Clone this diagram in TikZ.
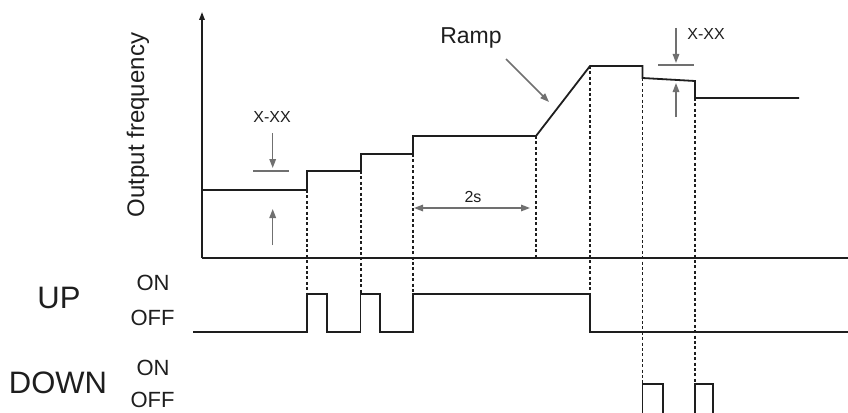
\documentclass[tikz,border=0pt]{standalone}
\usepackage{fontspec}
\setmainfont{Liberation Sans}
\usetikzlibrary{arrows.meta}
\definecolor{sig}{HTML}{1E1E1E}
\definecolor{dim}{HTML}{707070}
\tikzset{
  sigline/.style={draw=sig, line width=1.8pt, line join=miter},
  axisline/.style={draw=sig, line width=1.6pt},
  guide/.style={draw=sig, line width=1.7pt, dash pattern=on 3pt off 2.4pt},
  dimarrow/.style={draw=dim, line width=1.5pt, -{Triangle[length=9pt,width=6.5pt]}},
  dimboth/.style={draw=dim, line width=1.5pt, {Triangle[length=9pt,width=6.5pt]}-{Triangle[length=9pt,width=6.5pt]}},
  dimtick/.style={draw=dim, line width=1.5pt},
  lbl/.style={inner sep=0pt, text=sig},
}
\begin{document}
\begin{tikzpicture}[x=1pt,y=-1pt]
\clip (0,0) rectangle (848,412);
\fill[white] (0,0) rectangle (848,412);

% axes
\coordinate (origin) at (202,258);
\coordinate (ytop) at (202,12);
\coordinate (xend) at (858,258);
\draw[axisline, -{Triangle[length=8pt,width=5.5pt]}] (origin) -- (ytop);
\draw[axisline, -{Triangle[length=10pt,width=7pt]}] (origin) -- (xend);

% output frequency curve
\draw[sigline] (202,190) -- (307,190) -- (307,171) -- (361,171) -- (361,154)
  -- (413,154) -- (413,136) -- (536,136) -- (590,66) -- (642.5,66) -- (642.5,78)
  -- (695,81) -- (695,98) -- (799,98);

% UP signal
\draw[sigline] (193,332) -- (307,332) -- (307,294) -- (327,294) -- (327,332)
  -- (360.5,332) -- (360.5,294) -- (380,294) -- (380,332) -- (413,332) -- (413,294)
  -- (590,294) -- (590,332) -- (850,332);

% DOWN signal
\draw[sigline] (642.5,425) -- (642.5,384) -- (663,384) -- (663,425);
\draw[sigline] (695,425) -- (695,384) -- (713,384) -- (713,425);

% guide lines
\draw[guide] (307,190) -- (307,294);
\draw[guide] (361,171) -- (361,294);
\draw[guide] (413,154) -- (413,294);
\draw[guide] (536,136) -- (536,258);
\draw[guide] (590,66) -- (590,294);
\draw[guide] (642.5,78) -- (642.5,384);
\draw[guide] (695,98) -- (695,384);

% left X-XX dimension
\coordinate (la1) at (272.7,133);
\coordinate (la2) at (272.7,168);
\coordinate (lt1) at (253,171);
\coordinate (lt2) at (289,171);
\coordinate (lb1) at (272.7,245);
\coordinate (lb2) at (272.7,209);
\draw[dimarrow] (la1) -- (la2);
\draw[dimtick] (lt1) -- (lt2);
\draw[dimarrow] (lb1) -- (lb2);
\node[lbl, font=\fontsize{16}{16}\selectfont] (xxl) at (272,117) {X-XX};

% right X-XX dimension
\coordinate (ra1) at (676,28);
\coordinate (ra2) at (676,63);
\coordinate (rt1) at (658,65);
\coordinate (rt2) at (694,65);
\coordinate (rb1) at (676,117);
\coordinate (rb2) at (676,83);
\draw[dimarrow] (ra1) -- (ra2);
\draw[dimtick] (rt1) -- (rt2);
\draw[dimarrow] (rb1) -- (rb2);
\node[lbl, font=\fontsize{16}{16}\selectfont] (xxr) at (706,34) {X-XX};

% 2s dimension
\coordinate (ts1) at (414,208);
\coordinate (ts2) at (530,208);
\draw[dimboth] (ts1) -- (ts2);
\node[lbl, font=\fontsize{16}{16}\selectfont] (two) at (473,197) {2s};

% Ramp label and arrow
\node[lbl, font=\fontsize{23}{23}\selectfont] (ramp) at (471,38) {Ramp};
\coordinate (rampa) at (506,59);
\coordinate (rampb) at (549,102);
\draw[dimarrow] (rampa) -- (rampb);

% axis label
\node[lbl, rotate=90, font=\fontsize{24}{24}\selectfont] (yl) at (138,125) {Output frequency};

% signal labels
\node[lbl, font=\fontsize{31}{31}\selectfont] (up) at (59,298) {UP};
\node[lbl, font=\fontsize{31}{31}\selectfont] (down) at (58,383) {DOWN};
\node[lbl, font=\fontsize{22}{22}\selectfont] (upon) at (153,283) {ON};
\node[lbl, font=\fontsize{22}{22}\selectfont] (upoff) at (152.5,318) {OFF};
\node[lbl, font=\fontsize{22}{22}\selectfont] (dnon) at (153,367.5) {ON};
\node[lbl, font=\fontsize{22}{22}\selectfont] (dnoff) at (152.5,400) {OFF};
\end{tikzpicture}
\end{document}
